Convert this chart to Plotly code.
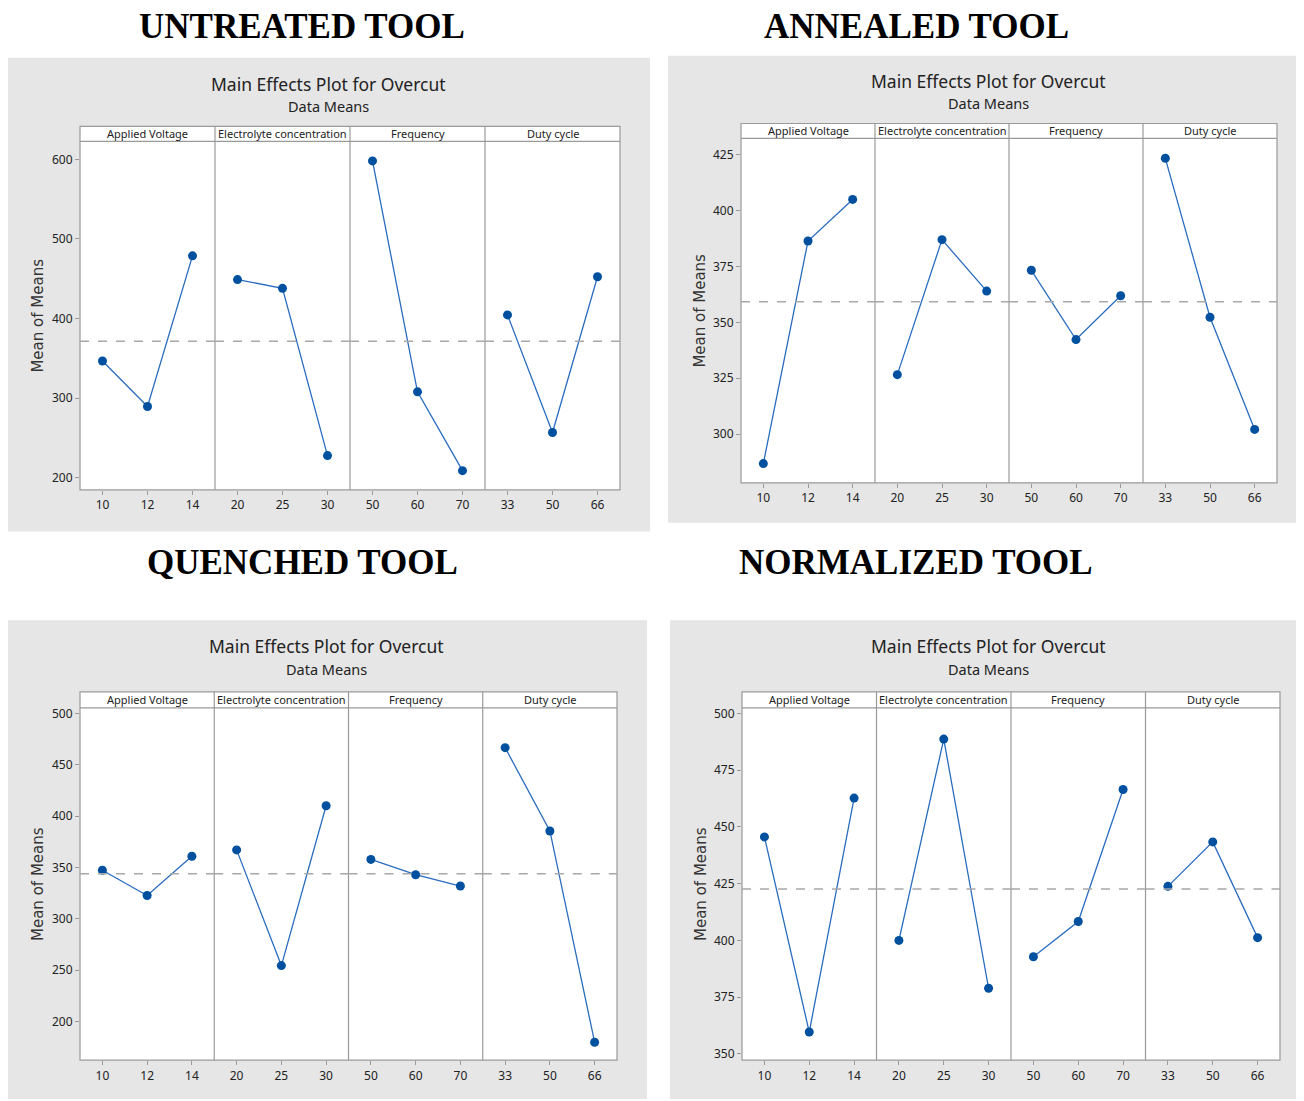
import plotly.graph_objects as go

# ---------------- data ----------------
factors = ["Applied Voltage", "Electrolyte concentration", "Frequency", "Duty cycle"]
levels = [["10", "12", "14"], ["20", "25", "30"], ["50", "60", "70"], ["33", "50", "66"]]

panel_titles = ["UNTREATED TOOL", "ANNEALED TOOL", "QUENCHED TOOL", "NORMALIZED TOOL"]

untreated = [[346.7, 289.6, 478.8], [449.0, 438.0, 228.0], [598.0, 308.0, 209.0], [404.6, 257.0, 452.5]]
annealed = [[286.8, 386.4, 405.0], [326.6, 387.0, 364.0], [373.3, 342.3, 361.9], [423.4, 352.3, 302.1]]
quenched = [[347.4, 322.8, 361.0], [367.2, 254.6, 410.2], [357.9, 343.0, 332.0], [466.7, 385.6, 180.0]]
normalized = [[445.6, 359.6, 462.7], [400.0, 488.7, 378.9], [392.8, 408.3, 466.5], [423.8, 443.4, 401.2]]

y_ticks = [
    [200, 300, 400, 500, 600],
    [300, 325, 350, 375, 400, 425],
    [200, 250, 300, 350, 400, 450, 500],
    [350, 375, 400, 425, 450, 475, 500],
]

# ---------------- layout geometry (screen pixels) ----------------
W, H = 1304, 1101
OFF = 8  # page body margin
FW, FH = W - OFF, H - OFF
y_ranges = [[185, 622.5], [278.2, 432.3], [162.5, 505.5], [347.2, 502.5]]
gray_boxes = [(7, 55, 650, 531), (668, 53, 1304, 522), (7, 620, 647, 1101), (670, 620, 1304, 1101)]
frames = [  # left, right, header_top, plot_top, plot_bottom
    (80, 620, 124, 139, 489),
    (741, 1277, 121, 136, 482),
    (80, 617, 692, 708, 1062),
    (742, 1280, 692, 708, 1062),
]
headings = [(302, 24), (916, 24), (302, 562), (916, 562)]
chart_titles = [(328, 81, 103), (988, 78, 100), (326, 646, 669), (988, 646, 669)]
ytitle_x = [38, 700, 38, 701]

datasets = [untreated, annealed, quenched, normalized]

GRAY_BG = "#e6e6e6"
FRAME = "#9a9a9a"
LINE_C = "#2a6cbf"
MARK_C = "#0050a0"
TEXT_C = "#222222"


def px(x):
    return min(max((x - OFF) / FW, 0.0), 1.0)


def py(y):
    return min(max(1 - (y - OFF) / FH, 0.0), 1.0)


fig = go.Figure()
shapes = []
annotations = []
layout_axes = {}

for p in range(4):
    gx0, gy0, gx1, gy1 = gray_boxes[p]
    shapes.append(dict(type="rect", xref="paper", yref="paper", x0=px(gx0), x1=px(gx1),
                       y0=py(gy1), y1=py(gy0), fillcolor=GRAY_BG, line_width=0, layer="below"))
    L, R, HT, PT, PB = frames[p]
    shapes.append(dict(type="rect", xref="paper", yref="paper", x0=px(L), x1=px(R),
                       y0=py(PB), y1=py(HT), fillcolor="white",
                       line=dict(color=FRAME, width=1.2), layer="below"))
    shapes.append(dict(type="line", xref="paper", yref="paper", x0=px(L), x1=px(R),
                       y0=py(PT), y1=py(PT), line=dict(color=FRAME, width=1.2), layer="below"))
    sw = (R - L) / 4.0
    for k in range(1, 4):
        xd = L + k * sw
        shapes.append(dict(type="line", xref="paper", yref="paper", x0=px(xd), x1=px(xd),
                           y0=py(PB), y1=py(HT), line=dict(color=FRAME, width=1.2), layer="below"))

    vals = datasets[p]
    grand = sum(sum(v) for v in vals) / 12.0

    for k in range(4):
        n = p * 4 + k + 1
        xa = "x" if n == 1 else f"x{n}"
        ya = "y" if n == 1 else f"y{n}"
        x0 = L + k * sw
        x1 = L + (k + 1) * sw
        layout_axes["xaxis" if n == 1 else f"xaxis{n}"] = dict(
            domain=[px(x0), px(x1)], anchor=ya, type="category",
            range=[-0.5, 2.5], showgrid=False, zeroline=False, showline=False,
            ticks="outside", ticklen=4, tickcolor=FRAME, tickwidth=1,
            tickfont=dict(family="Noto Sans", size=12, color=TEXT_C),
            fixedrange=True,
        )
        layout_axes["yaxis" if n == 1 else f"yaxis{n}"] = dict(
            domain=[py(PB), py(PT)], anchor=xa, range=y_ranges[p],
            tickvals=y_ticks[p], showticklabels=(k == 0),
            ticks="outside" if k == 0 else "", ticklen=4, tickcolor=FRAME,
            showgrid=False, zeroline=False, showline=False,
            tickfont=dict(family="Noto Sans", size=12, color=TEXT_C),
            fixedrange=True,
        )
        fig.add_trace(go.Scatter(
            x=levels[k], y=vals[k], xaxis=xa, yaxis=ya, mode="lines+markers",
            line=dict(color=LINE_C, width=1.3),
            marker=dict(color=MARK_C, size=9, symbol="circle"),
            showlegend=False, hoverinfo="x+y",
        ))
        shapes.append(dict(type="line", xref=f"{xa} domain", yref=ya, x0=0, x1=1,
                           y0=grand, y1=grand,
                           line=dict(color="#a8a8a8", width=1.5, dash="dash"), layer="above"))
        annotations.append(dict(text=factors[k], xref="paper", yref="paper",
                                x=px((x0 + x1) / 2), y=py((HT + PT) / 2), showarrow=False,
                                xanchor="center", yanchor="middle",
                                font=dict(family="Noto Sans", size=11, color=TEXT_C)))

    hx, hy = headings[p]
    annotations.append(dict(text="<b>" + panel_titles[p] + "</b>", xref="paper", yref="paper",
                            x=px(hx), y=py(hy), showarrow=False, xanchor="center", yanchor="middle",
                            font=dict(family="Liberation Serif", size=35, color="black")))
    tx, ty1, ty2 = chart_titles[p]
    annotations.append(dict(text="Main Effects Plot for Overcut", xref="paper", yref="paper",
                            x=px(tx), y=py(ty1), showarrow=False, xanchor="center", yanchor="middle",
                            font=dict(family="Noto Sans", size=17.5, color=TEXT_C)))
    annotations.append(dict(text="Data Means", xref="paper", yref="paper",
                            x=px(tx), y=py(ty2), showarrow=False, xanchor="center", yanchor="middle",
                            font=dict(family="Noto Sans", size=14.5, color=TEXT_C)))
    annotations.append(dict(text="Mean of Means", xref="paper", yref="paper",
                            x=px(ytitle_x[p]), y=py((PT + PB) / 2), showarrow=False,
                            textangle=-90, xanchor="center", yanchor="middle",
                            font=dict(family="DejaVu Sans", size=15, color="#333333")))

fig.update_layout(
    width=FW, height=FH, margin=dict(l=0, r=0, t=0, b=0),
    paper_bgcolor="white", plot_bgcolor="rgba(0,0,0,0)",
    shapes=shapes, annotations=annotations, showlegend=False,
    **layout_axes,
)

fig.write_html("out.html")
